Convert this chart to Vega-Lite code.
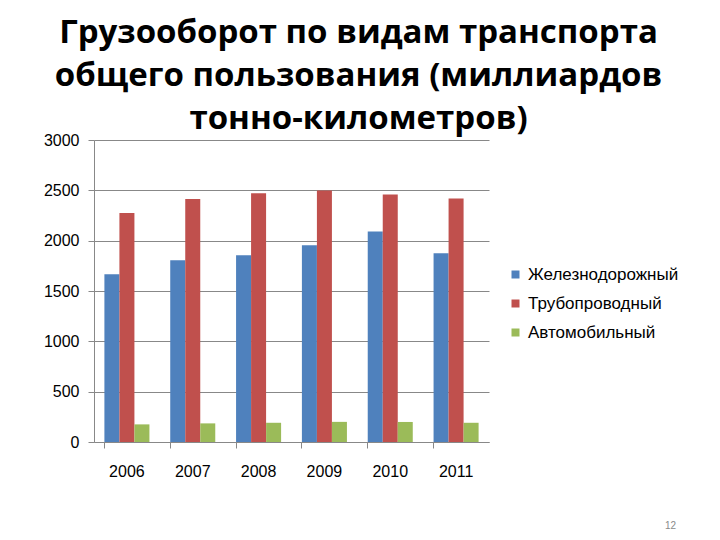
{
  "$schema": "https://vega.github.io/schema/vega-lite/v6.json",
  "width": 395,
  "height": 302,
  "autosize": "none",
  "padding": {"left": 94, "top": 140, "right": 231, "bottom": 98},
  "background": "white",
  "title": {
    "text": ["Грузооборот по видам транспорта", "общего пользования (миллиардов", "тонно-километров)"],
    "font": "Open Sans",
    "fontSize": 33,
    "fontWeight": "bold",
    "color": "black",
    "lineHeight": 43,
    "anchor": "middle",
    "frame": "group",
    "dx": 67,
    "offset": -4
  },
  "data": {
    "values": [
      {"year": "2006", "type": "Железнодорожный", "value": 1667},
      {"year": "2006", "type": "Трубопроводный", "value": 2274},
      {"year": "2006", "type": "Автомобильный", "value": 175},
      {"year": "2007", "type": "Железнодорожный", "value": 1805},
      {"year": "2007", "type": "Трубопроводный", "value": 2413},
      {"year": "2007", "type": "Автомобильный", "value": 185},
      {"year": "2008", "type": "Железнодорожный", "value": 1855},
      {"year": "2008", "type": "Трубопроводный", "value": 2472},
      {"year": "2008", "type": "Автомобильный", "value": 191},
      {"year": "2009", "type": "Железнодорожный", "value": 1954},
      {"year": "2009", "type": "Трубопроводный", "value": 2498},
      {"year": "2009", "type": "Автомобильный", "value": 200},
      {"year": "2010", "type": "Железнодорожный", "value": 2092},
      {"year": "2010", "type": "Трубопроводный", "value": 2459},
      {"year": "2010", "type": "Автомобильный", "value": 199},
      {"year": "2011", "type": "Железнодорожный", "value": 1875},
      {"year": "2011", "type": "Трубопроводный", "value": 2419},
      {"year": "2011", "type": "Автомобильный", "value": 191}
    ]
  },
  "mark": {"type": "bar"},
  "encoding": {
    "x": {
      "field": "year",
      "type": "nominal",
      "scale": {"paddingInner": 0.316, "paddingOuter": 0.158},
      "axis": {
        "labelAngle": 0,
        "bandPosition": 0,
        "tickSize": 6,
        "labelPadding": 15,
        "labelFont": "Liberation Sans",
        "labelFontSize": 16,
        "labelColor": "black",
        "domainColor": "#888888",
        "tickColor": "#888888",
        "grid": false,
        "title": "12",
        "titleX": 576,
        "titleY": 78,
        "titleAlign": "center",
        "titleFont": "Liberation Sans",
        "titleFontSize": 10,
        "titleFontWeight": "normal",
        "titleColor": "#8a8a8a"
      }
    },
    "xOffset": {
      "field": "type",
      "type": "nominal",
      "sort": ["Железнодорожный", "Трубопроводный", "Автомобильный"],
      "scale": {"paddingInner": 0, "paddingOuter": 0}
    },
    "y": {
      "field": "value",
      "type": "quantitative",
      "scale": {"domain": [0, 3000], "nice": false},
      "axis": {
        "values": [0, 500, 1000, 1500, 2000, 2500, 3000],
        "format": "d",
        "title": null,
        "tickSize": 6,
        "labelPadding": 9,
        "labelFont": "Liberation Sans",
        "labelFontSize": 16,
        "labelColor": "black",
        "domainColor": "#888888",
        "tickColor": "#888888",
        "gridColor": "#888888",
        "gridOpacity": 1,
        "grid": true
      }
    },
    "color": {
      "field": "type",
      "type": "nominal",
      "sort": ["Железнодорожный", "Трубопроводный", "Автомобильный"],
      "scale": {"range": ["#4F81BD", "#C0504D", "#9BBB59"]},
      "legend": {
        "title": null,
        "orient": "none",
        "legendX": 413,
        "legendY": 126,
        "padding": 0,
        "symbolType": "square",
        "symbolSize": 64,
        "symbolStrokeWidth": 0,
        "labelFont": "Liberation Sans",
        "labelFontSize": 17,
        "labelColor": "black",
        "labelOffset": 4,
        "rowPadding": 11
      }
    }
  },
  "config": {
    "view": {"stroke": null}
  }
}
